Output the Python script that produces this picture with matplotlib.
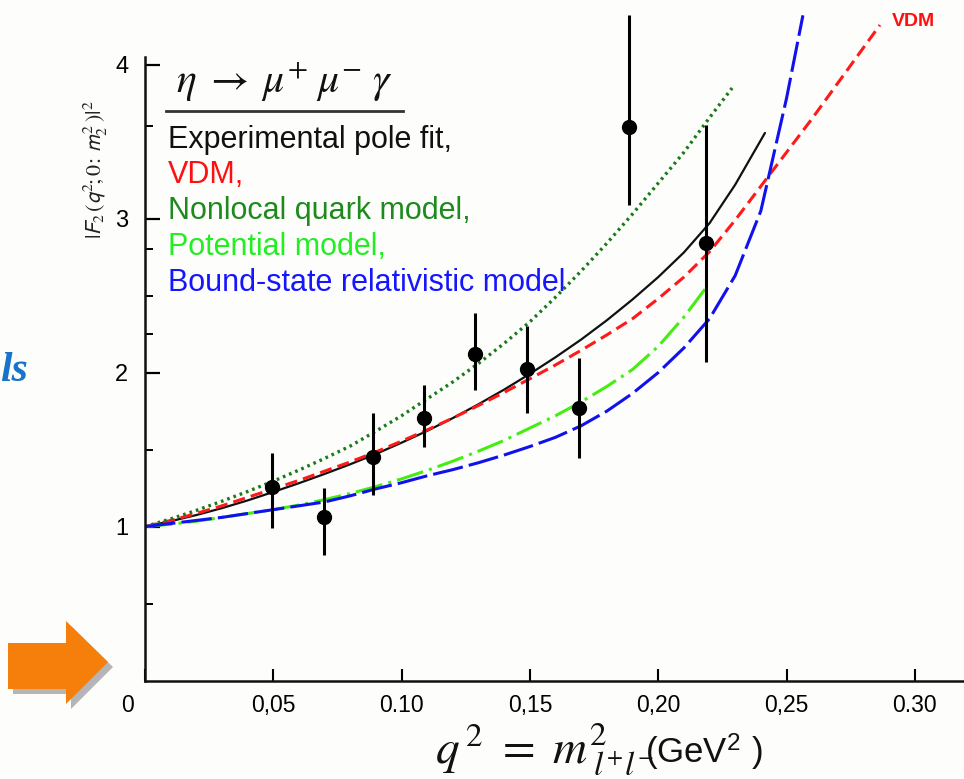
import numpy as np
import matplotlib
matplotlib.use("Agg")
import matplotlib.pyplot as plt
from matplotlib.patches import Polygon
import matplotlib.transforms as mtransforms

plt.rcParams['font.family'] = ['Liberation Sans', 'DejaVu Sans']
plt.rcParams['mathtext.fontset'] = 'stix'

# ---------------- data ----------------
q2_points = [0.0494, 0.0699, 0.0889, 0.1087, 0.1286, 0.1489, 0.1691, 0.1886, 0.2186]
F_points = [1.255, 1.064, 1.450, 1.703, 2.120, 2.023, 1.770, 3.595, 2.840]
err_low = [0.266, 0.248, 0.245, 0.184, 0.233, 0.283, 0.327, 0.505, 0.771]
err_high = [0.221, 0.185, 0.290, 0.216, 0.267, 0.277, 0.325, 0.725, 0.768]

pole_x = [0, 0.01, 0.02, 0.03, 0.04, 0.05, 0.06, 0.07, 0.08, 0.09, 0.10, 0.11, 0.12,
          0.13, 0.14, 0.15, 0.16, 0.17, 0.18, 0.19, 0.20, 0.21, 0.22, 0.23, 0.2416]
pole_y = [1.0, 1.035, 1.075, 1.12, 1.17, 1.225, 1.282, 1.342, 1.405, 1.472, 1.545, 1.622, 1.705,
          1.795, 1.89, 1.992, 2.10, 2.215, 2.34, 2.475, 2.62, 2.78, 2.97, 3.22, 3.556]

vdm_x = [0, 0.01, 0.02, 0.03, 0.04, 0.05, 0.06, 0.07, 0.08, 0.09, 0.10, 0.11, 0.12, 0.13, 0.14,
         0.15, 0.16, 0.17, 0.18, 0.19, 0.20, 0.21, 0.22, 0.23, 0.24, 0.25, 0.26, 0.27, 0.28, 0.2864]
vdm_y = [1.0, 1.04, 1.085, 1.135, 1.19, 1.245, 1.30, 1.36, 1.42, 1.485, 1.555, 1.628, 1.705, 1.787, 1.872,
         1.96, 2.05, 2.145, 2.245, 2.35, 2.48, 2.62, 2.785, 2.99, 3.21, 3.43, 3.65, 3.88, 4.11, 4.257]

nonlocal_x = [0, 0.01, 0.02, 0.03, 0.04, 0.05, 0.06, 0.07, 0.08, 0.09, 0.10, 0.11, 0.12, 0.13,
              0.14, 0.15, 0.16, 0.17, 0.18, 0.19, 0.20, 0.21, 0.22, 0.2288]
nonlocal_y = [1.0, 1.05, 1.105, 1.165, 1.228, 1.295, 1.367, 1.443, 1.523, 1.62, 1.72, 1.83, 1.94, 2.06,
              2.19, 2.33, 2.49, 2.66, 2.84, 3.03, 3.23, 3.43, 3.655, 3.848]

potential_x = [0, 0.01, 0.02, 0.03, 0.04, 0.05, 0.06, 0.07, 0.08, 0.09, 0.10, 0.11, 0.12, 0.13,
               0.14, 0.15, 0.16, 0.17, 0.18, 0.19, 0.20, 0.21, 0.2186]
potential_y = [1.0, 1.015, 1.035, 1.06, 1.085, 1.11, 1.14, 1.175, 1.215, 1.26, 1.31, 1.365, 1.425, 1.49,
               1.56, 1.64, 1.72, 1.81, 1.91, 2.02, 2.17, 2.36, 2.55]

bound_x = [0, 0.01, 0.02, 0.03, 0.04, 0.05, 0.06, 0.07, 0.08, 0.09, 0.10, 0.11, 0.12, 0.13, 0.14,
           0.15, 0.16, 0.17, 0.18, 0.19, 0.20, 0.21, 0.22, 0.23, 0.24, 0.25, 0.2564]
bound_y = [1.0, 1.02, 1.04, 1.06, 1.085, 1.11, 1.135, 1.16, 1.20, 1.245, 1.285, 1.33, 1.37, 1.415, 1.465,
           1.52, 1.58, 1.655, 1.75, 1.865, 2.0, 2.16, 2.35, 2.63, 3.05, 3.78, 4.32]

x_ticks = [0, 0.05, 0.10, 0.15, 0.20, 0.25, 0.30]
x_ticklabels = ['0', '0,05', '0.10', '0,15', '0,20', '0,25', '0.30']
y_ticks = [1, 2, 3, 4]
y_ticklabels = ['1', '2', '3', '4']
y_minor = [0.5, 1.5, 2.25, 2.5, 2.8, 3.6]

legend_lines = ['Experimental pole fit,', 'VDM,', 'Nonlocal quark model,',
                'Potential model,', 'Bound-state relativistic model']
legend_colors = ['#111111', '#ff1010', '#1e8a1e', '#22ee22', '#1515ff']

# ---------------- figure ----------------
W, H = 964, 779
fig = plt.figure(figsize=(W / 100, H / 100), dpi=100)
fig.patch.set_facecolor('#fdfdfb')


def fx(px):
    return px / W


def fy(py):
    return 1 - py / H


ax = fig.add_axes([fx(145), (779 - 680.6) / H, 1 - fx(145), 680.6 / H])
ax.set_facecolor('none')
ax.set_xlim(0, (964 - 145) / 2566)
ax.set_ylim(0, 680.6 / 154)

for s in ['top', 'right']:
    ax.spines[s].set_visible(False)
ax.spines['left'].set_bounds(0, 4.05)
ax.spines['left'].set_linewidth(1.8)
ax.spines['bottom'].set_linewidth(1.8)
ax.spines['left'].set_color('#111111')
ax.spines['bottom'].set_color('#111111')

ax.set_xticks(x_ticks)
ax.set_xticklabels(x_ticklabels)
ax.set_yticks(y_ticks)
ax.set_yticklabels(y_ticklabels)
ax.set_yticks(y_minor, minor=True)
ax.tick_params(axis='x', direction='in', length=9, width=1.5, pad=10,
               labelsize=16.5, colors='#000000')
ax.tick_params(axis='y', which='major', direction='in', length=11, width=1.6, pad=12,
               labelsize=17, colors='#000000')
ax.tick_params(axis='y', which='minor', direction='in', length=6, width=1.4)

# shift the "0" label left, as in the scan
lbl0 = ax.get_xticklabels()[0]
lbl0.set_transform(lbl0.get_transform() + mtransforms.ScaledTranslation(-17 / 100, 0, fig.dpi_scale_trans))

# curves
ax.plot(pole_x, pole_y, color='#111111', lw=1.6, solid_capstyle='round')
ax.plot(vdm_x, vdm_y, color='#ff1a1a', lw=2.2, dashes=(4, 2))
ax.plot(nonlocal_x, nonlocal_y, color='#1a7a1a', lw=2.4, dashes=(0.8, 1.2))
ax.plot(potential_x, potential_y, color='#44ee11', lw=2.2, dashes=(9, 2, 1, 2))
ax.plot(bound_x, bound_y, color='#1111ee', lw=2.2, dashes=(10, 2))

# data points
ax.errorbar(q2_points, F_points, yerr=[err_low, err_high], fmt='o', color='#000000',
            ms=10, elinewidth=2.2, capsize=0, zorder=5)

ax.text(0.2993, 4.277, 'VDM', color='#ff1010', fontsize=14, fontweight='bold',
        ha='center', va='center')

# title formula and underline
fig.text(fx(176), fy(93), r'$\eta\;\rightarrow\;\mu^{+}\;\mu^{-}\;\gamma$', fontsize=30,
         ha='left', va='baseline', color='#111111')
fig.add_artist(plt.Line2D([fx(166), fx(403)], [fy(111), fy(111)], color='#333333', lw=2))

# legend text lines
baselines = [148, 183, 219, 255, 291]
for txt, col, b in zip(legend_lines, legend_colors, baselines):
    fig.text(fx(168), fy(b), txt, color=col, fontsize=22, ha='left', va='baseline')

# y-axis label (rotated)
fig.text(fx(96), fy(170), r'$|\mathsf{F}_{2}\,(\mathsf{q}^{2}\!;0\!:\,\mathsf{m}^{2}_{2}\,)|^{2}$',
         rotation=90, fontsize=16, ha='center', va='center', color='#222222')

# x-axis label
fig.text(fx(435), fy(763), r'$q^{\,2}\ =\ m^{2}_{\;l^{+}l^{-}}$', fontsize=34,
         ha='left', va='baseline', color='#111111')
fig.text(fx(645), fy(763), r'(GeV$^{\mathregular{2}}$ )', fontsize=25, ha='left', va='baseline',
         color='#111111')

# fragment of slide title at left
fig.text(fx(0), fy(381), 'ls', fontsize=30, family='Liberation Serif', style='italic',
         fontweight='bold', color='#1874c8', ha='left', va='baseline')

# orange block arrow with shadow
arrow_px = [(8, 643), (66, 643), (66, 621), (108, 662), (66, 704), (66, 689), (8, 689)]
shadow = Polygon([(fx(x + 5), fy(y + 5)) for x, y in arrow_px], closed=True,
                 transform=fig.transFigure, facecolor='#b5b5b5', edgecolor='none')
fig.add_artist(shadow)
arrow = Polygon([(fx(x), fy(y)) for x, y in arrow_px], closed=True,
                transform=fig.transFigure, facecolor='#f57f0a', edgecolor='none')
fig.add_artist(arrow)

fig.savefig('out.png', dpi=100, facecolor=fig.get_facecolor())
